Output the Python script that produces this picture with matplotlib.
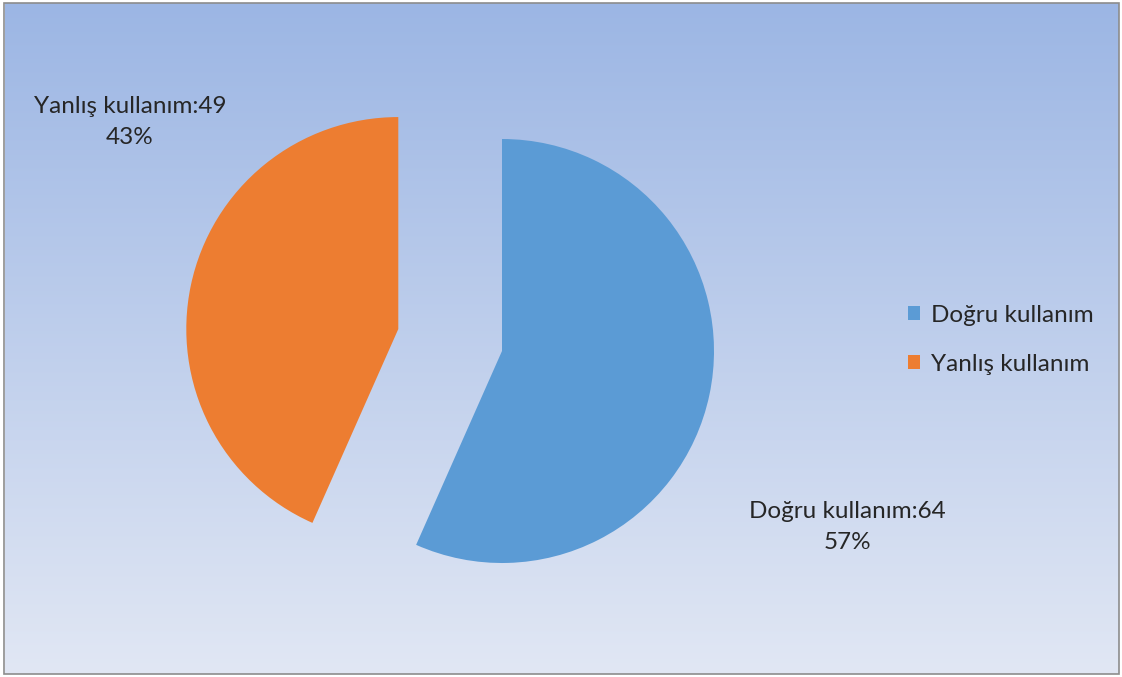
import numpy as np
import matplotlib.pyplot as plt
from matplotlib.colors import LinearSegmentedColormap
from matplotlib.patches import Rectangle

# --------------------------------------------------
# data
# --------------------------------------------------
categories = ["Doğru kullanım", "Yanlış kullanım"]
counts = [64, 49]
percents = ["57%", "43%"]
colors = ["#5b9bd5", "#ed7d31"]
explode_frac = [0, 0.5]

plt.rcParams["font.family"] = ["Lato", "DejaVu Sans"]

W, H = 1122, 677
R = 212
fig = plt.figure(figsize=(W / 100, H / 100), dpi=100)
ax = fig.add_axes([0, 0, 1, 1])
ax.set_axis_off()

# background gradient inside the chart border
grad = LinearSegmentedColormap.from_list("bg", ["#9cb6e4", "#e1e7f4"])
ax.imshow(np.linspace(0, 1, 256).reshape(-1, 1), cmap=grad, aspect="auto",
          extent=[5, 1119, 3, 674], zorder=0)
ax.add_patch(Rectangle((4.5, 3), 1115, 671, fill=False, edgecolor="#8c8c8c",
                       linewidth=1.2, zorder=1))

# pie: blue slice from 12 o'clock clockwise, orange slice exploded
# (matplotlib explode is in data units, so scale by radius)
wedges, _ = ax.pie(counts, colors=colors, startangle=90, counterclock=False,
                   explode=[e * R for e in explode_frac], radius=R,
                   center=(502, H - 351),
                   wedgeprops=dict(linewidth=0, zorder=2))

ax.set_xlim(0, W)
ax.set_ylim(0, H)
ax.set_aspect("auto")

# data labels
fs = 17.5
ax.text(847, H - 527, f"{categories[0]}:{counts[0]}\n{percents[0]}",
        ha="center", va="center", fontsize=fs, color="#262626", linespacing=1.55)
ax.text(130, H - 122, f"{categories[1]}:{counts[1]}\n{percents[1]}",
        ha="center", va="center", fontsize=fs, color="#262626", linespacing=1.55)

# legend
leg = ax.legend(wedges, categories, loc="center left",
                bbox_to_anchor=(886 / W, 1 - 340 / H), frameon=False,
                fontsize=fs, handlelength=0.5, handleheight=0.5,
                handletextpad=0.45, labelspacing=1.15)
for t in leg.get_texts():
    t.set_color("#262626")

fig.savefig("out.png", dpi=100, facecolor="white")
